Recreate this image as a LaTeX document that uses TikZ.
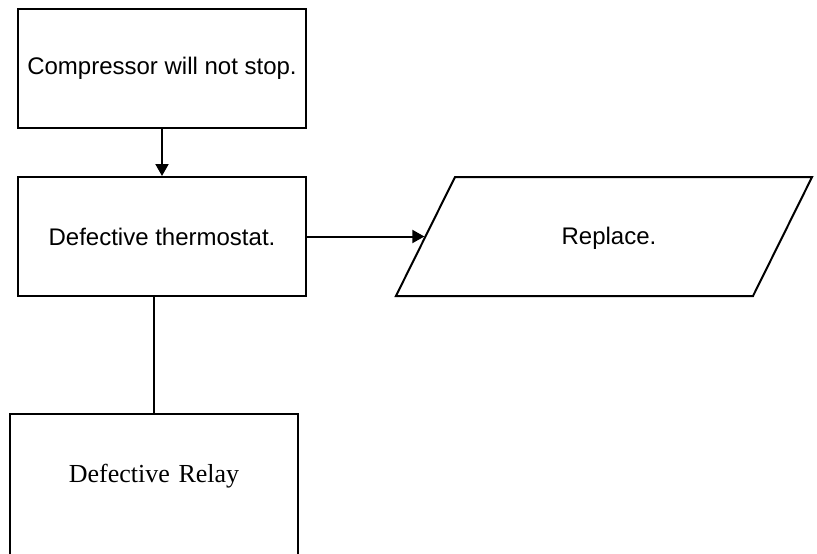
\documentclass[tikz,border=0pt]{standalone}
\usepackage{fontspec}
\setmainfont{Liberation Sans}
\newfontfamily\timesfont{Liberation Serif}
\usetikzlibrary{arrows.meta,shapes.geometric}
\newcommand{\boxwidth}{288pt}
\newcommand{\boxheight}{119pt}
\tikzset{
  box/.style={draw, rectangle, line width=2pt, inner sep=0pt,
    minimum width=\boxwidth, minimum height=\boxheight,
    font=\fontsize{24}{28}\selectfont},
  link/.style={line width=2pt, -{Triangle[length=12pt,width=13pt]}}
}

\begin{document}
\begin{tikzpicture}[x=1pt,y=-1pt]
        \useasboundingbox (0,0) rectangle (817,554);
        \clip (0,0) rectangle (817,554);

        \node (stop) at (162,68.5) [box] {Compressor will not stop.};
        \node (thermo) at (162,236.5) [box] {Defective thermostat.};
        \node (replace) at (604,236.5) [draw, trapezium,
          trapezium left angle=63.6, trapezium right angle=116.4,
          line width=2pt, inner sep=0pt, text width=298pt, align=center,
          text height=67.5pt, text depth=51.5pt,
          font=\fontsize{24}{28}\selectfont] {\hspace*{10pt}Replace.};
        \node (relay) at (154,413) [box, anchor=north, minimum height=0pt,
          text width=\boxwidth, align=center, text height=68pt, text depth=130pt,
          font=\timesfont\fontsize{26}{30}\selectfont] {Defective Relay};

        \draw[link] (stop) -- (thermo);
        \draw[link] (thermo) -- (replace.left side);
        \draw[line width=2pt] (relay.north) -- (relay.north |- thermo.south);
\end{tikzpicture}
\end{document}
